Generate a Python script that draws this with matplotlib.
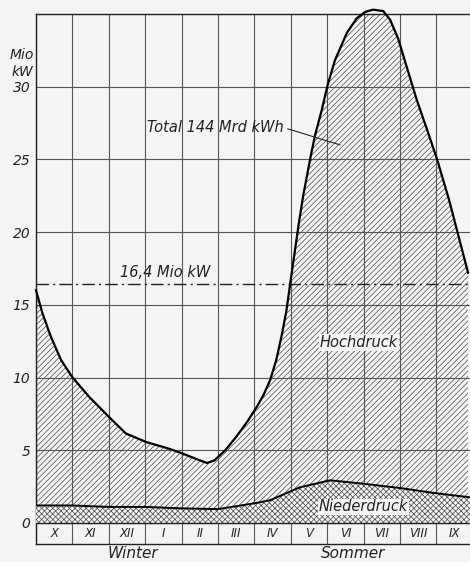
import matplotlib
matplotlib.use('Agg')
from matplotlib import pyplot as plt

# Monate (Oktober bis September)
monate = ['X', 'XI', 'XII', 'I', 'II', 'III', 'IV', 'V', 'VI', 'VII', 'VIII', 'IX']

# Gesamtleistung (Mio kW)
total_x = [0.0, 0.18, 0.41, 0.69, 0.99, 1.46, 2.0, 2.47, 3.02, 3.66, 4.03, 4.4, 4.7,
           4.9, 5.2, 5.51, 5.8, 6.07, 6.25, 6.43, 6.6, 6.75, 6.88, 6.98, 7.1, 7.22,
           7.34, 7.53, 7.66, 7.85, 8.01, 8.21, 8.54, 8.81, 9.05, 9.26, 9.54, 9.73,
           9.95, 10.18, 10.46, 10.75, 11.02, 11.35, 11.6, 11.87]
total_y = [16.0, 14.4, 12.8, 11.2, 10.05, 8.67, 7.3, 6.15, 5.57, 5.1, 4.77, 4.4, 4.12,
           4.3, 5.0, 5.95, 6.95, 8.0, 8.8, 9.8, 11.2, 12.9, 14.6, 16.4, 18.5, 20.6,
           22.5, 25.0, 26.6, 28.4, 30.1, 31.8, 33.7, 34.7, 35.15, 35.3, 35.2, 34.6,
           33.3, 31.4, 29.1, 27.0, 25.0, 22.2, 19.8, 17.2]

# Niederdruck (Mio kW)
nieder_x = [0, 1, 2, 3, 4, 5, 5.33, 6, 6.43, 7.25, 8.08, 8.98, 10.0, 10.96, 11.92]
nieder_y = [1.2, 1.2, 1.1, 1.1, 1.0, 0.95, 1.08, 1.35, 1.56, 2.45, 2.93, 2.7, 2.4, 2.05, 1.76]

grenze = 16.4
yticks = [0, 5, 10, 15, 20, 25, 30]

bg = '#f4f4f2'
plt.rcParams['hatch.linewidth'] = 0.55
plt.rcParams['hatch.color'] = '#555555'

fig = plt.figure(figsize=(4.7, 5.62), dpi=100, facecolor=bg)
ax = fig.add_axes([36 / 470, 18 / 562, 436.8 / 470, 530 / 562])
ax.set_facecolor(bg)

ax.set_xlim(0, 12)
ax.set_ylim(-1.45, 35)

# Gitter
for i in range(13):
    ax.axvline(i, color='#555555', lw=0.8, zorder=1)
for v in yticks:
    ax.axhline(v, color='#555555', lw=0.8, zorder=1)
ax.axhline(0, color='#222222', lw=1.0, zorder=5)

# Flaechen
ax.fill_between(total_x, 0, total_y, facecolor='none', hatch='//////',
                edgecolor='#555555', lw=0, zorder=2)
ax.fill_between(nieder_x, 0, nieder_y, facecolor=bg, hatch='xxxxxx',
                edgecolor='#555555', lw=0, zorder=3)

# Kurven
ax.plot(total_x, total_y, color='black', lw=1.6, zorder=6, clip_on=False)
ax.plot(nieder_x, nieder_y, color='black', lw=1.4, zorder=6)
ax.axhline(grenze, color='#222222', lw=1.0, linestyle=(0, (9, 3, 1.5, 3)), zorder=6)

font = dict(style='italic', family='DejaVu Sans', color='#222222')

ax.text(2.31, 17.2, '16,4 Mio kW', fontsize=10.5, va='center', ha='left', **font)
ax.text(3.05, 27.2, 'Total 144 Mrd kWh', fontsize=10.5, va='center', ha='left', **font)
ax.plot([6.92, 8.35], [27.1, 26.0], color='#222222', lw=0.8, zorder=6)
ax.text(8.87, 12.4, 'Hochdruck', fontsize=10.5, va='center', ha='center',
        bbox=dict(facecolor=bg, edgecolor='none', pad=0.5), zorder=7, **font)
ax.text(9.0, 1.1, 'Niederdruck', fontsize=10.5, va='center', ha='center',
        bbox=dict(facecolor=bg, edgecolor='none', pad=0.5), zorder=7, **font)

# Monatszeile
for i, m in enumerate(monate):
    ax.text(i + 0.5, -0.72, m, fontsize=8.5, va='center', ha='center', **font)
ax.text(2.66, -2.1, 'Winter', fontsize=11, va='center', ha='center', clip_on=False, **font)
ax.text(8.7, -2.1, 'Sommer', fontsize=11, va='center', ha='center', clip_on=False, **font)

# Achsen
ax.set_yticks(yticks)
ax.set_yticklabels([str(v) for v in yticks], fontsize=10, style='italic', color='#222222')
ax.set_xticks([])
ax.tick_params(axis='y', length=0, pad=4)
for s in ['left', 'bottom', 'top']:
    ax.spines[s].set_color('#222222')
    ax.spines[s].set_linewidth(1.0)
ax.spines['right'].set_visible(False)

ax.text(-0.38, 32.2, 'Mio', fontsize=10, va='center', ha='center', clip_on=False, **font)
ax.text(-0.38, 31.0, 'kW', fontsize=10, va='center', ha='center', clip_on=False, **font)

fig.savefig('out.png', dpi=100, facecolor=bg)
